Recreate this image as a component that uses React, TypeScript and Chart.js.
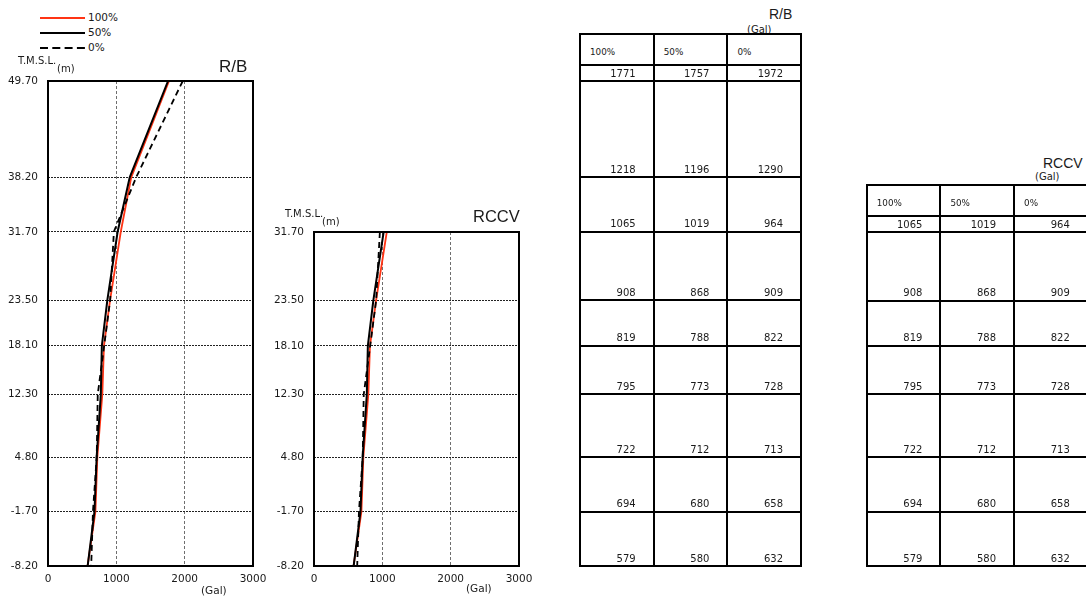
import React, { useEffect, useRef } from "react";
import { Chart, registerables } from "chart.js";

Chart.register(...registerables);

// ---------- data ----------
const seriesLabels = ["100%", "50%", "0%"];
const xTicks = [0, 1000, 2000, 3000];

const rbElevations = [49.7, 38.2, 31.7, 23.5, 18.1, 12.3, 4.8, -1.7, -8.2];
const rb100 = [1771, 1218, 1065, 908, 819, 795, 722, 694, 579];
const rb50 = [1757, 1196, 1019, 868, 788, 773, 712, 680, 580];
const rb0 = [1972, 1290, 964, 909, 822, 728, 713, 658, 632];

const rccvElevations = [31.7, 23.5, 18.1, 12.3, 4.8, -1.7, -8.2];
const rccv100 = [1065, 908, 819, 795, 722, 694, 579];
const rccv50 = [1019, 868, 788, 773, 712, 680, 580];
const rccv0 = [964, 909, 822, 728, 713, 658, 632];

// ---------- style ----------
const RED = "#ff3414";
const SMALL = '"DejaVu Sans", sans-serif';
const TITLE = '"Liberation Sans", Arial, sans-serif';
const TXT = "#1a1a1a";

type Area = { left: number; top: number; right: number; bottom: number };
const RB_AREA: Area = { left: 48, top: 81, right: 253, bottom: 566 };
const RCCV_AREA: Area = { left: 314, top: 232, right: 519, bottom: 566 };

const Y_AXIS_W = 48;
const PAD_TOP = 31;
const PAD_RIGHT = 47;
const X_AXIS_H = 30;
const PAGE_H = 601;

function mapper(area: Area, elevations: number[]) {
  const hi = Math.max(...elevations);
  const lo = Math.min(...elevations);
  return (e: number) => area.top + ((hi - e) / (hi - lo)) * (area.bottom - area.top);
}

function ProfileChart(props: {
  area: Area;
  elevations: number[];
  s100: number[];
  s50: number[];
  s0: number[];
}) {
  const { area, elevations, s100, s50, s0 } = props;
  const ref = useRef<HTMLCanvasElement>(null);
  const left = area.left - Y_AXIS_W;
  const top = area.top - PAD_TOP;
  const width = area.right - left + PAD_RIGHT;
  const height = PAGE_H - top;
  const padBottom = height - (area.bottom - top) - X_AXIS_H;

  useEffect(() => {
    const canvas = ref.current!;
    const pts = (arr: number[]) => arr.map((v, i) => ({ x: v, y: elevations[i] }));
    const yMin = Math.min(...elevations);
    const yMax = Math.max(...elevations);
    const frame = {
      id: "frame",
      afterDraw(c: any) {
        const a = c.chartArea;
        const g = c.ctx;
        g.save();
        g.setLineDash([]);
        g.strokeStyle = "#000";
        g.lineWidth = 2;
        g.strokeRect(a.left, a.top, a.right - a.left, a.bottom - a.top);
        g.restore();
      },
    };
    const chart = new Chart(canvas, {
      type: "scatter",
      data: {
        datasets: [
          { label: seriesLabels[0], data: pts(s100), showLine: true, borderColor: RED, backgroundColor: RED, borderWidth: 1.8, pointRadius: 0, order: 3 },
          { label: seriesLabels[1], data: pts(s50), showLine: true, borderColor: "#000", backgroundColor: "#000", borderWidth: 2, pointRadius: 0, order: 2 },
          { label: seriesLabels[2], data: pts(s0), showLine: true, borderColor: "#000", backgroundColor: "#000", borderWidth: 1.8, borderDash: [6, 4], pointRadius: 0, order: 1 },
        ],
      } as any,
      options: {
        responsive: false,
        animation: false,
        events: [],
        layout: { padding: { top: PAD_TOP, left: 0, right: PAD_RIGHT, bottom: padBottom } },
        plugins: { legend: { display: false }, tooltip: { enabled: false } },
        scales: {
          x: {
            type: "linear",
            min: 0,
            max: 3000,
            afterBuildTicks: (s: any) => {
              s.ticks = xTicks.map((v) => ({ value: v }));
            },
            afterFit: (s: any) => {
              s.height = X_AXIS_H;
            },
            grid: { color: "#6e6e6e", lineWidth: 1, drawTicks: false },
            border: { display: false, dash: [3, 2] },
            ticks: {
              padding: 7,
              color: TXT,
              autoSkip: false,
              maxRotation: 0,
              font: { family: SMALL, size: 10.5 },
              callback: (v: any) => String(v),
            },
          },
          y: {
            type: "linear",
            min: yMin,
            max: yMax,
            afterBuildTicks: (s: any) => {
              s.ticks = [...elevations].sort((a, b) => a - b).map((v) => ({ value: v }));
            },
            afterFit: (s: any) => {
              s.width = Y_AXIS_W;
            },
            grid: { color: "#222", lineWidth: 1, drawTicks: false },
            border: { display: false, dash: [2, 1] },
            ticks: {
              padding: 10,
              color: TXT,
              autoSkip: false,
              font: { family: SMALL, size: 10.5 },
              callback: (v: any) => Number(v).toFixed(2),
            },
          },
        },
      } as any,
      plugins: [frame],
    });
    return () => chart.destroy();
  }, []);

  return (
    <canvas
      ref={ref}
      width={width}
      height={height}
      style={{ position: "absolute", left, top, width, height }}
    />
  );
}

function Label(props: { x: number; y: number; size: number; family?: string; children: React.ReactNode }) {
  return (
    <div
      style={{
        position: "absolute",
        left: props.x,
        top: props.y,
        fontFamily: props.family || SMALL,
        fontSize: props.size,
        lineHeight: props.size + "px",
        whiteSpace: "nowrap",
        color: TXT,
      }}
    >
      {props.children}
    </div>
  );
}

function ValueTable(props: {
  left: number;
  colW: number;
  elevations: number[];
  cols: number[][];
  yOf: (e: number) => number;
}) {
  const { left, colW, elevations, cols, yOf } = props;
  const rowLines = elevations.map(yOf);
  const headerBottom = rowLines[0] - 15.7;
  const top = headerBottom - 31;
  const bottom = rowLines[rowLines.length - 1];
  const hLines = [top, headerBottom, ...rowLines];
  const items: React.ReactNode[] = [];
  hLines.forEach((y, i) => {
    items.push(
      <div key={"h" + i} style={{ position: "absolute", left: left - 1, top: y - 1, width: colW * 3 + 2, height: 2, background: "#000" }} />
    );
  });
  for (let c = 0; c <= 3; c++) {
    items.push(
      <div key={"v" + c} style={{ position: "absolute", left: left + c * colW - 1, top: top - 1, width: 2, height: bottom - top + 2, background: "#000" }} />
    );
  }
  cols.forEach((vals, c) => {
    const cl = left + c * colW;
    items.push(
      <div key={"hd" + c} style={{ position: "absolute", left: cl + 10, top: headerBottom - 18, fontFamily: SMALL, fontSize: 8.8, lineHeight: "10px", color: TXT, whiteSpace: "nowrap" }}>
        {seriesLabels[c]}
      </div>
    );
    vals.forEach((v, r) => {
      items.push(
        <div
          key={"c" + c + "_" + r}
          style={{
            position: "absolute",
            left: cl,
            width: colW - 18,
            top: rowLines[r] - 13.5,
            fontFamily: SMALL,
            fontSize: 10,
            lineHeight: "12px",
            textAlign: "right",
            color: TXT,
            whiteSpace: "nowrap",
          }}
        >
          {v}
        </div>
      );
    });
  });
  return <>{items}</>;
}

function Legend() {
  const rows = [
    { y: 18, color: RED, dash: "" },
    { y: 33, color: "#000", dash: "" },
    { y: 48, color: "#000", dash: "8 4.3" },
  ];
  return (
    <>
      <svg style={{ position: "absolute", left: 0, top: 0 }} width={100} height={60}>
        {rows.map((r, i) => (
          <line key={i} x1={40} x2={85} y1={r.y} y2={r.y} stroke={r.color} strokeWidth={1.8} strokeDasharray={r.dash || undefined} />
        ))}
      </svg>
      {rows.map((r, i) => (
        <Label key={i} x={88} y={r.y - 6} size={10.5}>
          {seriesLabels[i]}
        </Label>
      ))}
    </>
  );
}

export default function App() {
  const rbY = mapper(RB_AREA, rbElevations);
  const rccvY = mapper(RCCV_AREA, rccvElevations);
  return (
    <div
      style={{
        position: "absolute",
        left: 0,
        top: 0,
        width: 1086,
        height: 601,
        overflow: "hidden",
        background: "#fff",
      }}
    >
      <Legend />

      {/* R/B chart */}
      <ProfileChart area={RB_AREA} elevations={rbElevations} s100={rb100} s50={rb50} s0={rb0} />
      <Label x={18} y={56} size={10}>T.M.S.L.</Label>
      <Label x={57} y={64} size={10}>(m)</Label>
      <Label x={219} y={58} size={17} family={TITLE}>R/B</Label>
      <Label x={201} y={585} size={10.5}>(Gal)</Label>

      {/* RCCV chart */}
      <ProfileChart area={RCCV_AREA} elevations={rccvElevations} s100={rccv100} s50={rccv50} s0={rccv0} />
      <Label x={285} y={209} size={10}>T.M.S.L.</Label>
      <Label x={322} y={217} size={10}>(m)</Label>
      <Label x={473} y={208} size={16.5} family={TITLE}>RCCV</Label>
      <Label x={466} y={583} size={10.5}>(Gal)</Label>

      {/* R/B table */}
      <Label x={769} y={7} size={14} family={TITLE}>R/B</Label>
      <Label x={747} y={25} size={10}>(Gal)</Label>
      <ValueTable left={580} colW={73.7} elevations={rbElevations} cols={[rb100, rb50, rb0]} yOf={rbY} />

      {/* RCCV table */}
      <Label x={1043} y={156} size={14} family={TITLE}>RCCV</Label>
      <Label x={1035} y={172} size={10}>(Gal)</Label>
      <ValueTable left={866.7} colW={73.7} elevations={rccvElevations} cols={[rccv100, rccv50, rccv0]} yOf={rccvY} />
    </div>
  );
}
